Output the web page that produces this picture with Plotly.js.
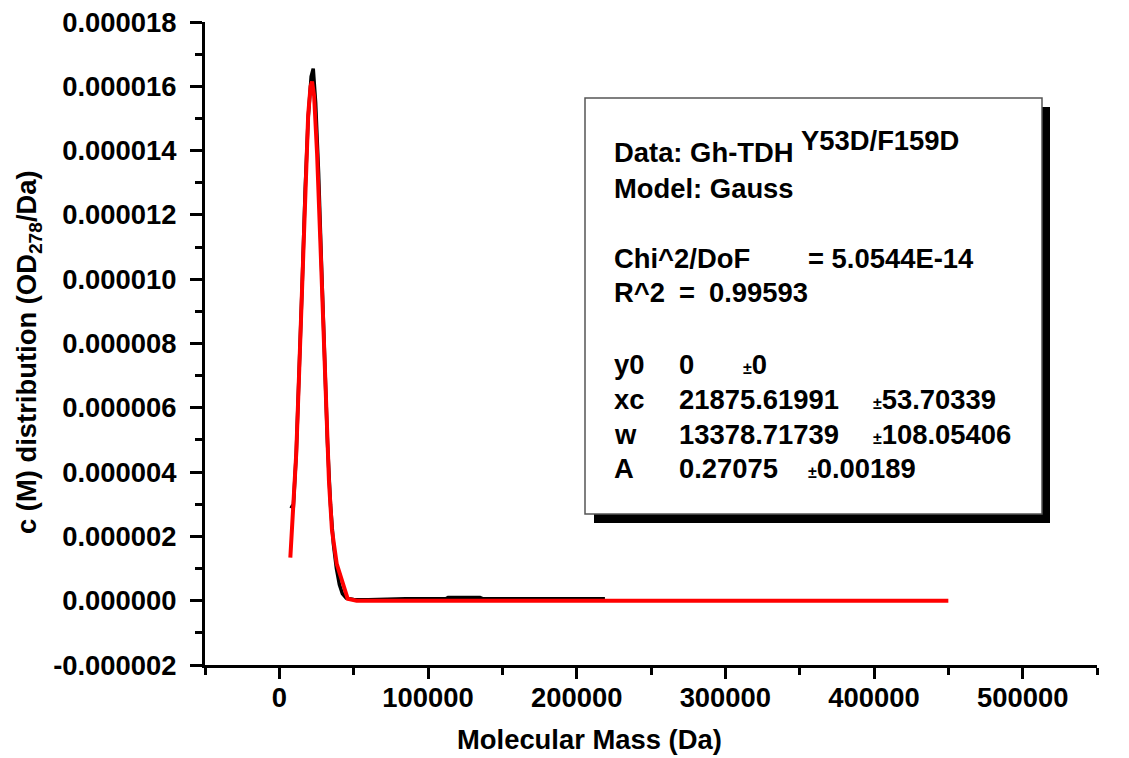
<!DOCTYPE html>
<html>
<head>
<meta charset="utf-8">
<script src="https://cdn.plot.ly/plotly-3.0.1.min.js"></script>
<style>html,body{margin:0;padding:0;background:#fff;}#chart{width:1129px;height:758px;}</style>
</head>
<body>
<div id="chart"></div>
<script>
// Measured data c(M) distribution (black), values in 1e-6 OD/Da
const dataMass = [7400, 9400, 11400, 13400, 15400, 17400, 19400, 21400, 22800, 24400, 26400, 28400, 30400, 32400, 34400, 36400, 38400, 40400, 42400, 45000, 50000, 60000, 85000, 112000, 113500, 135000, 137000, 219000];
const dataConc = [2.95, 2.9, 4.6, 7.0, 9.9, 12.8, 15.0, 16.3, 16.55, 15.5, 13.3, 10.4, 7.5, 4.9, 3.0, 1.75, 1.0, 0.5, 0.22, 0.08, 0.04, 0.03, 0.06, 0.06, 0.1, 0.1, 0.06, 0.06];
// Gauss fit curve (red), values in 1e-6 OD/Da
const fitMass = [7400, 9400, 11400, 13400, 15400, 17400, 19400, 21000, 22000, 23400, 25400, 27400, 29400, 31400, 33400, 35400, 38600, 46000, 52000, 100000, 200000, 300000, 450000];
const fitConc = [1.34, 2.75, 4.6, 7.2, 10.1, 12.9, 15.1, 16.0, 16.15, 15.7, 13.9, 11.4, 8.6, 5.9, 3.7, 2.2, 1.15, 0.06, 0.0, 0.0, 0.0, 0.0, 0.0];
const scale = 1e-6;

// Axis ticks
const xTickVals = [0, 100000, 200000, 300000, 400000, 500000];
const xTickText = ["0", "100000", "200000", "300000", "400000", "500000"];
const yTickVals = [-2, 0, 2, 4, 6, 8, 10, 12, 14, 16, 18];
const yTickText = ["-0.000002", "0.000000", "0.000002", "0.000004", "0.000006", "0.000008", "0.000010", "0.000012", "0.000014", "0.000016", "0.000018"];

// Fit report text
const reportHead = ["Data: Gh-TDH", "Model: Gauss"];
const reportSup = "Y53D/F159D";
const chiLabel = "Chi^2/DoF", chiValue = "= 5.0544E-14";
const r2Label = "R^2", r2Value = "0.99593";
const paramNames = ["y0", "xc", "w", "A"];
const paramValues = ["0", "21875.61991", "13378.71739", "0.27075"];
const paramErrors = ["0", "53.70339", "108.05406", "0.00189"];

const FONT = "Liberation Sans, Arial, Helvetica, sans-serif";
const FS = 27.4;

// plot area in pixels
const L = 205, R = 1097, T = 22, B = 665;
const px = v => (v - L) / (R - L);
const py = v => (B - v) / (B - T);

const traces = [
  {x: dataMass, y: dataConc.map(v => v * scale), type: 'scatter', mode: 'lines',
   line: {color: '#000000', width: 3.5}, hoverinfo: 'skip'},
  {x: fitMass, y: fitConc.map(v => v * scale), type: 'scatter', mode: 'lines',
   line: {color: '#ff0000', width: 4}, hoverinfo: 'skip'}
];

const ann = [];
function txt(x, y, t, size, extra) {
  ann.push(Object.assign({xref: 'paper', yref: 'paper', x: px(x), y: py(y), text: t, showarrow: false,
    xanchor: 'left', yanchor: 'middle', font: {family: FONT, size: size || FS, color: '#000', weight: 'bold'}}, extra || {}));
}
// report text
txt(612, 152, reportHead[0]);
txt(799, 140, reportSup);
txt(612, 188, reportHead[1]);
txt(612, 258, chiLabel);
txt(806, 258, chiValue);
txt(612, 293, r2Label);
txt(677, 293, "=");
txt(707, 293, r2Value);
const rowY = [364, 399, 434, 469];
const errX = [741, 871, 871, 806];
const pm = '<span style="font-size:16px">\u00b1</span>';
for (let i = 0; i < paramNames.length; i++) {
  txt(612, rowY[i], paramNames[i]);
  txt(677, rowY[i], paramValues[i]);
  txt(errX[i], rowY[i], pm + paramErrors[i]);
}
// axis titles
ann.push({xref: 'paper', yref: 'paper', x: px(589), y: py(740), text: 'Molecular Mass (Da)', showarrow: false,
  xanchor: 'center', yanchor: 'middle', font: {family: FONT, size: FS, color: '#000', weight: 'bold'}});
ann.push({xref: 'paper', yref: 'paper', x: px(28), y: py(352), text: 'c (M) distribution (OD<sub>278</sub>/Da)', showarrow: false,
  textangle: -90, xanchor: 'center', yanchor: 'middle', font: {family: FONT, size: FS, color: '#000', weight: 'bold'}});

const shapes = [
  {type: 'rect', xref: 'paper', yref: 'paper', x0: px(594), x1: px(1050), y0: py(523), y1: py(107),
   fillcolor: '#000', line: {width: 0}, layer: 'above'},
  {type: 'rect', xref: 'paper', yref: 'paper', x0: px(585), x1: px(1042), y0: py(514), y1: py(98),
   fillcolor: '#fff', line: {color: '#555', width: 1.5}, layer: 'above'}
];

const layout = {
  width: 1129, height: 758,
  margin: {l: L, r: 1129 - R, t: T, b: 758 - B, pad: 0},
  paper_bgcolor: '#fff', plot_bgcolor: '#fff',
  showlegend: false,
  xaxis: {range: [-50000, 550000], tickmode: 'array', tickvals: xTickVals, ticktext: xTickText,
    showline: true, linecolor: '#000', linewidth: 3, mirror: false,
    ticks: 'outside', ticklen: 11, tickwidth: 3, tickcolor: '#000',
    showgrid: false, zeroline: false, ticklabelstandoff: -5,
    tickfont: {family: FONT, size: FS, color: '#000', weight: 'bold'},
    minor: {dtick: 50000, tick0: 0, ticks: 'outside', ticklen: 7, tickwidth: 3, tickcolor: '#000', showgrid: false}},
  yaxis: {range: [-2e-6, 18e-6], tickmode: 'array', tickvals: yTickVals.map(v => v * scale), ticktext: yTickText,
    showline: true, linecolor: '#000', linewidth: 3, mirror: false,
    ticks: 'outside', ticklen: 12, tickwidth: 3, tickcolor: '#000',
    showgrid: false, zeroline: false, ticklabelstandoff: 8,
    tickfont: {family: FONT, size: FS, color: '#000', weight: 'bold'},
    minor: {dtick: 1e-6, tick0: 0, ticks: 'outside', ticklen: 7, tickwidth: 3, tickcolor: '#000', showgrid: false}},
  annotations: ann,
  shapes: shapes
};

Plotly.newPlot('chart', traces, layout, {displayModeBar: false, staticPlot: true});
</script>
</body>
</html>
